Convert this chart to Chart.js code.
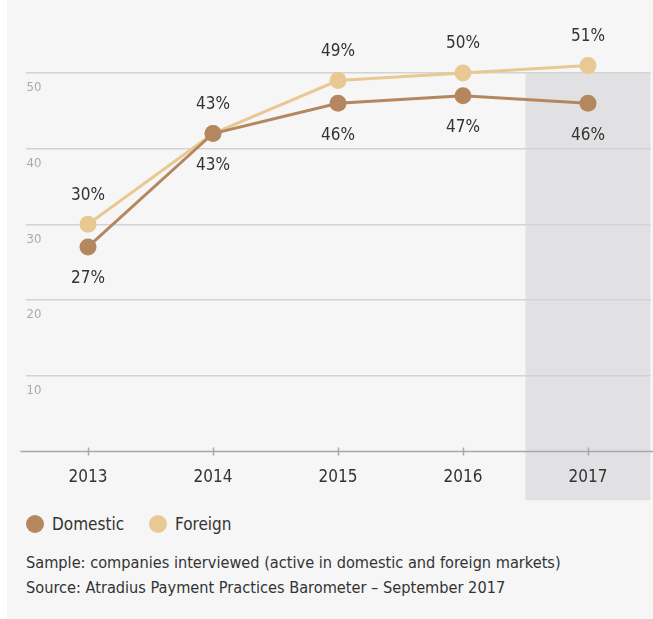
<!DOCTYPE html>
<html>
<head>
<meta charset="utf-8">
<script src="https://cdn.jsdelivr.net/npm/chart.js@4.4.1/dist/chart.umd.min.js"></script>
<style>
  html, body { margin: 0; padding: 0; background: #ffffff; }
  #panel { position: absolute; left: 7px; top: 0; width: 646px; height: 619px; background: #f6f6f6; overflow: hidden;
           font-family: "DejaVu Sans Condensed", "DejaVu Sans", sans-serif; color: #333; }
  #box { position: absolute; left: 0; top: 0; width: 652px; height: 510px; }
  .key { position: absolute; top: 513px; height: 22px; line-height: 22px; font-size: 17px; }
  .key i { position: absolute; left: 0; top: 2px; width: 18px; height: 18px; border-radius: 50%; }
  .key span { position: absolute; left: 18px; white-space: nowrap; }
  #note { position: absolute; left: 19px; top: 550px; font-size: 16.2px; line-height: 25px; white-space: nowrap; }
</style>
</head>
<body>
<div id="panel">
  <div id="box"><canvas id="chart"></canvas></div>
  <div id="legend"></div>
  <div id="note">Sample: companies interviewed (active in domestic and foreign markets)<br>Source: Atradius Payment Practices Barometer – September 2017</div>
</div>
<script>
const years = ["2013", "2014", "2015", "2016", "2017"];
const domestic = [27, 42, 46, 47, 46];
const foreign = [30, 42, 49, 50, 51];
const domesticLabels = ["27%", "43%", "46%", "47%", "46%"];
const foreignLabels = ["30%", "43%", "49%", "50%", "51%"];
const yTicks = [10, 20, 30, 40, 50];
const highlightYear = "2017";

const FONT = "'DejaVu Sans Condensed', 'DejaVu Sans', sans-serif";
const BROWN = "#b4875f";
const SAND = "#e8c993";

// grey band behind the latest year
const bandPlugin = {
  id: "band",
  beforeDraw(chart) {
    const x = chart.scales.x, y = chart.scales.y;
    const i = years.indexOf(highlightYear);
    const half = (x.getPixelForValue(1) - x.getPixelForValue(0)) / 2;
    const cx = x.getPixelForValue(i);
    const top = y.getPixelForValue(50);
    const ctx = chart.ctx;
    ctx.save();
    ctx.fillStyle = "#e1e1e3";
    ctx.fillRect(cx - half, top, half * 2, y.bottom + 49 - top);
    ctx.restore();
  },
  // axis line runs a bit past the plot, ticks cross it
  afterDraw(chart) {
    const x = chart.scales.x, y = chart.scales.y;
    const y0 = Math.round(y.getPixelForValue(0)) + 0.5;
    const ctx = chart.ctx;
    ctx.save();
    ctx.strokeStyle = "#a8a8a8";
    ctx.lineWidth = 1.5;
    ctx.beginPath();
    ctx.moveTo(chart.chartArea.left - 5, y0);
    ctx.lineTo(chart.width, y0);
    years.forEach((_, i) => {
      const px = Math.round(x.getPixelForValue(i)) + 0.5;
      ctx.moveTo(px, y0 - 4);
      ctx.lineTo(px, y0 + 4);
    });
    ctx.stroke();
    ctx.restore();
  }
};

// value labels: foreign above, domestic below
const labelPlugin = {
  id: "valueLabels",
  afterDatasetsDraw(chart) {
    const ctx = chart.ctx;
    ctx.save();
    ctx.font = "17px " + FONT;
    ctx.fillStyle = "#333";
    ctx.textAlign = "center";
    ctx.textBaseline = "middle";
    chart.getDatasetMeta(1).data.forEach((pt, i) => {
      ctx.fillText(foreignLabels[i], pt.x, pt.y - 29);
    });
    chart.getDatasetMeta(0).data.forEach((pt, i) => {
      ctx.fillText(domesticLabels[i], pt.x, pt.y + 32);
    });
    ctx.restore();
  }
};

const chart = new Chart(document.getElementById("chart").getContext("2d"), {
  type: "line",
  data: {
    labels: years,
    datasets: [
      {
        label: "Domestic",
        data: domestic,
        borderColor: BROWN,
        backgroundColor: BROWN,
        borderWidth: 3,
        pointRadius: 8.5,
        pointBorderWidth: 0,
        pointHoverRadius: 8.5
      },
      {
        label: "Foreign",
        data: foreign,
        borderColor: SAND,
        backgroundColor: SAND,
        borderWidth: 3,
        pointRadius: 8.5,
        pointBorderWidth: 0,
        pointHoverRadius: 8.5
      }
    ]
  },
  options: {
    responsive: true,
    maintainAspectRatio: false,
    animation: false,
    layout: { padding: { left: 16.5, right: 0, top: 27.6, bottom: 14.4 } },
    scales: {
      x: {
        offset: true,
        grid: { display: false },
        border: { display: false },
        ticks: { color: "#333", padding: 8, font: { family: FONT, size: 17 } }
      },
      y: {
        min: 0,
        max: 56,
        afterBuildTicks(scale) {
          scale.ticks = yTicks.map(v => ({ value: v }));
        },
        grid: { color: "#d3d3d3", lineWidth: 1.5, drawTicks: false },
        border: { display: false },
        ticks: {
          mirror: true,
          padding: 1,
          labelOffset: 15,
          color: "#aaa",
          font: { family: FONT, size: 13 }
        }
      }
    },
    plugins: {
      legend: { display: false },
      tooltip: { enabled: false }
    }
  },
  plugins: [bandPlugin, labelPlugin]
});

// legend below the plot, built from the datasets
const legendPos = [28 - 9, 151 - 9];
document.getElementById("legend").innerHTML = chart.data.datasets.map((ds, i) =>
  `<div class="key" style="left:${legendPos[i]}px"><i style="background:${ds.backgroundColor}"></i><span style="padding-left:8px">${ds.label}</span></div>`
).join("");
</script>
</body>
</html>
